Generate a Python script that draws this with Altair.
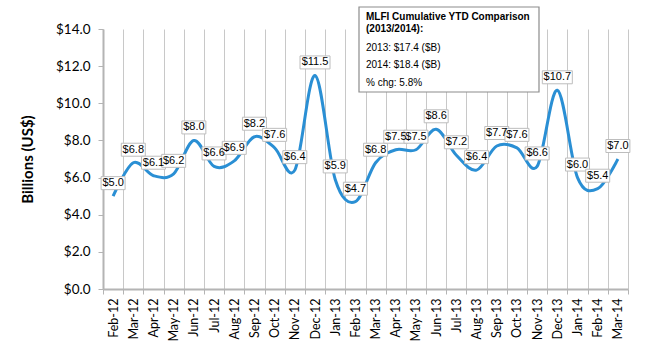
import altair as alt
import pandas as pd

months = ["Feb-12", "Mar-12", "Apr-12", "May-12", "Jun-12", "Jul-12", "Aug-12",
          "Sep-12", "Oct-12", "Nov-12", "Dec-12", "Jan-13", "Feb-13", "Mar-13",
          "Apr-13", "May-13", "Jun-13", "Jul-13", "Aug-13", "Sep-13", "Oct-13",
          "Nov-13", "Dec-13", "Jan-14", "Feb-14", "Mar-14"]
values = [5.0, 6.8, 6.1, 6.2, 8.0, 6.6, 6.9, 8.2, 7.6, 6.4, 11.5, 5.9, 4.7, 6.8,
          7.5, 7.5, 8.6, 7.2, 6.4, 7.7, 7.6, 6.6, 10.7, 6.0, 5.4, 7.0]
y_ticks = [0, 2, 4, 6, 8, 10, 12, 14]
info_lines = ["MLFI Cumulative YTD Comparison", "(2013/2014):",
              "2013: $17.4 ($B)", "2014: $18.4  ($B)", "% chg: 5.8%"]
info_bold = [True, True, False, False, False]
info_y = [-12, 0, 19, 36, 54]

df = pd.DataFrame({"month": months, "value": values})
df["label"] = ["$%.1f" % v for v in values]
df["nchar"] = df["label"].str.len()

W, H = 525, 260
LINE = "#2a8fd4"

x = alt.X("month:N", sort=months, title=None,
          scale=alt.Scale(type="band", paddingInner=0, paddingOuter=0),
          axis=alt.Axis(tickBand="extent", labelAngle=-90, grid=True,
                        gridColor="#c8c8c8", gridWidth=1,
                        domainColor="#b4b4b4", domainWidth=2,
                        tickColor="#b4b4b4", tickSize=5, tickWidth=1,
                        labelFont="Lato", labelFontSize=12.5, labelColor="black",
                        labelPadding=4))
y = alt.Y("value:Q", title="Billions (US$)",
          scale=alt.Scale(domain=[0, 14], nice=False),
          axis=alt.Axis(values=y_ticks, format="$.1f", grid=False,
                        domainColor="#b4b4b4", domainWidth=2,
                        tickColor="#b4b4b4", tickSize=5,
                        labelFont="Lato", labelFontSize=13.5, labelColor="black",
                        labelPadding=8,
                        titleFont="Lato", titleFontSize=15, titleFontWeight="bold",
                        titleColor="black", titleX=-76, titleY=H / 2,
                        titleAlign="center", titleBaseline="middle", titleAngle=-90))

base = alt.Chart(df)

line = base.mark_line(color=LINE, strokeWidth=3, interpolate="cardinal").encode(x=x, y=y)

box_small = base.transform_filter("datum.nchar <= 4").mark_rect(
    width=24, height=13, yOffset=-13, fill="white", stroke="#bdbdbd", strokeWidth=1
).encode(x=x, y=y)
box_big = base.transform_filter("datum.nchar > 4").mark_rect(
    width=30, height=13, yOffset=-13, fill="white", stroke="#bdbdbd", strokeWidth=1
).encode(x=x, y=y)
labels = base.mark_text(font="Liberation Sans", fontSize=11, color="black",
                        yOffset=-13, baseline="middle", align="center").encode(
    x=x, y=y, text="label:N")

one = pd.DataFrame({"k": [0]})
info_box = alt.Chart(one).mark_rect(fill="white", stroke="#8c8c8c", strokeWidth=1.2).encode(
    x=alt.value(256), x2=alt.value(436), y=alt.value(-22), y2=alt.value(63))

info_texts = []
for txt, bold, py in zip(info_lines, info_bold, info_y):
    info_texts.append(
        alt.Chart(one).mark_text(
            text=txt, font="Liberation Sans", fontSize=10,
            fontWeight="bold" if bold else "normal", color="black",
            align="left", baseline="middle").encode(
            x=alt.value(263), y=alt.value(py)))

chart = alt.layer(line, box_small, box_big, labels, info_box, *info_texts).properties(
    width=W, height=H,
    autosize=alt.AutoSizeParams(type="none"),
    padding={"left": 103, "top": 29, "right": 22, "bottom": 61},
).configure_view(stroke=None).configure_axis(labelOverlap=False)

chart.save("out.html", embed_options={"renderer": "svg", "actions": False})
